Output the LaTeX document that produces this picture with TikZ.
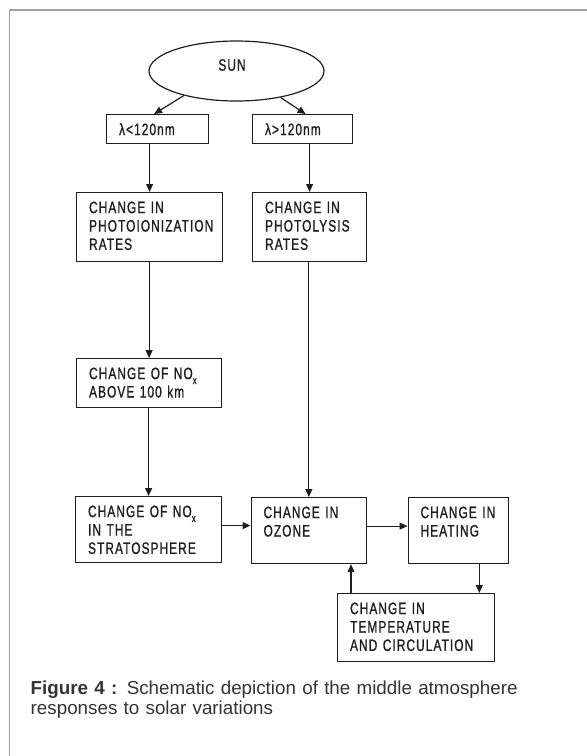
\documentclass[tikz,border=0pt]{standalone}
\usepackage{fontspec}
\setmainfont{Liberation Sans}
\newfontfamily\techfont[FakeStretch=0.72,LetterSpace=6.5,FakeBold=1]{Liberation Sans}
\usetikzlibrary{arrows.meta,calc,shapes.geometric}
\definecolor{ink}{HTML}{1E1E1E}
\definecolor{framegray}{HTML}{A0A0A0}
\definecolor{captxt}{HTML}{333333}
\newcommand{\subx}{{\fontsize{11}{11}\selectfont\raisebox{-5pt}{x}}}
\begin{document}
\begin{tikzpicture}[x=1pt,y=-1pt,
  box/.style={draw=ink, line width=1.2pt, anchor=north west, inner xsep=12.5pt, inner ysep=0pt,
    align=left, text=ink, font=\techfont\fontsize{16.5}{18.4}\selectfont, text height=20.5pt},
  arr/.style={draw=ink, line width=1.2pt, -{Triangle[length=8pt,width=7pt]}},
]
\useasboundingbox (0,0) rectangle (587,756);
\draw[framegray, line width=1.2pt] (587,10) -- (9.4,10) -- (9.4,756);

\node[ellipse, draw=ink, line width=1.2pt, minimum width=175pt, minimum height=60pt,
  label={[font=\techfont\fontsize{16.5}{18}\selectfont, text=ink, xshift=-4.5pt, yshift=6pt]center:SUN}]
  (sun) at (236.5,71) {};

\node[box, text width=77pt, text depth=8.5pt] (lt) at (106,114) {λ<120nm};
\node[box, text width=75pt, text depth=8.5pt] (rt) at (252,114) {λ>120nm};
\node[box, text width=121pt, text depth=48.5pt] (pi) at (76,192) {CHANGE IN\\PHOTOIONIZATION\\RATES};
\node[box, text width=89pt, text depth=48.5pt] (pl) at (252,192) {CHANGE IN\\PHOTOLYSIS\\RATES};
\node[box, text width=120pt, text depth=28.5pt] (na) at (76,358) {CHANGE OF NO\subx\\ABOVE 100 km};
\node[box, text width=121pt, text depth=45.5pt] (ns) at (75,496) {CHANGE OF NO\subx\\IN THE\\STRATOSPHERE};
\node[box, text width=90.5pt, text depth=45.5pt] (oz) at (250.5,497) {CHANGE IN\\OZONE};
\node[box, text width=75.5pt, text depth=45.5pt] (ht) at (407.5,497) {CHANGE IN\\HEATING};
\node[box, text width=132pt, text depth=47.5pt] (tc) at (337,593) {CHANGE IN\\TEMPERATURE\\AND CIRCULATION};

\draw[arr] (sun.205.3) -- ([xshift=-3.5pt]lt.north);
\draw[arr] (sun.329.7) -- ([xshift=3pt]rt.north);
\draw[arr] (pi.north |- lt.south) -- (pi.north);
\draw[arr] (pl.north |- rt.south) -- (pl.north);
\draw[arr] (na.north |- pi.south) -- (na.north);
\draw[arr] (ns.north |- na.south) -- (ns.north);
\draw[arr] (oz.north |- pl.south) -- (oz.north);
\draw[arr] ([yshift=4pt]ns.east) -- ([yshift=4pt]ns.east -| oz.west);
\draw[arr] ([yshift=4.5pt]oz.east) -- ([yshift=4.5pt]oz.east -| ht.west);
\draw[arr] ([xshift=21pt]ht.south) -- ([xshift=21pt]ht.south |- tc.north);
\draw[arr] ([xshift=14pt]tc.north west) -- ([xshift=14pt]tc.north west |- oz.south);

\node[anchor=base west, inner sep=0pt, text width=550pt, align=left, text=captxt,
  font=\fontsize{18.8}{20.5}\selectfont] (cap) at (30.5,694)
  {\textbf{Figure 4 :} Schematic depiction of the middle atmosphere\\responses to solar variations};
\end{tikzpicture}
\end{document}
